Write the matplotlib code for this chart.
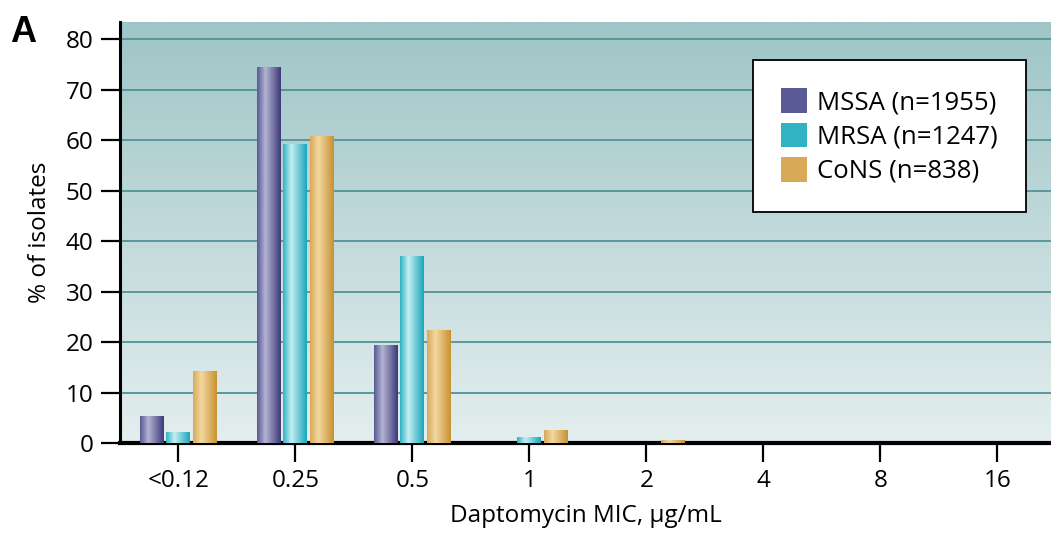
import numpy as np
import matplotlib.pyplot as plt
from matplotlib.colors import LinearSegmentedColormap
from matplotlib.patches import Patch

plt.rcParams['font.family'] = ['Open Sans', 'DejaVu Sans']

categories = ['<0.12', '0.25', '0.5', '1', '2', '4', '8', '16']
mssa = [5.3, 74.5, 19.5, 0, 0, 0, 0, 0]
mrsa = [2.1, 59.3, 37.0, 1.2, 0, 0, 0, 0]
cons = [14.3, 60.8, 22.3, 2.5, 0.5, 0, 0, 0]
labels = ['MSSA (n=1955)', 'MRSA (n=1247)', 'CoNS (n=838)']

# dark, light, dark-edge colours for the shaded bars
shades = [('#5a5a94', '#b4b4d4', '#3c3a78'),
          ('#30b4c4', '#c4eef2', '#1aa6ba'),
          ('#d8aa58', '#f2d8a0', '#c89232')]

fig = plt.figure(figsize=(10.51, 5.44), dpi=100)
ax = fig.add_axes([120/1051, 1 - 443/544, 1 - 120/1051, 421/544])

ax.set_xlim(-0.5, 7.46)
ax.set_ylim(0, 83.4)

# background gradient
bg = LinearSegmentedColormap.from_list('bg', ['#e4eeee', '#9fc5c7'])
ax.imshow(np.linspace(0, 1, 256).reshape(-1, 1), cmap=bg, aspect='auto',
          extent=[-0.5, 7.46, 0, 83.4], origin='lower', zorder=0)

for y in range(10, 90, 10):
    ax.axhline(y, color='#4f9496', lw=1.3, zorder=1)

x = np.arange(len(categories))
width = 0.205
step = 0.225
grad = np.linspace(0, 1, 64).reshape(1, -1)
for k, (vals, sh) in enumerate(zip([mssa, mrsa, cons], shades)):
    cmap = LinearSegmentedColormap.from_list('s%d' % k, [(0, sh[0]), (0.35, sh[1]), (1, sh[2])])
    bars = ax.bar(x + (k - 1) * step, vals, width, color=sh[0], zorder=2, lw=0)
    for b in bars:
        if b.get_height() <= 0:
            continue
        im = ax.imshow(grad, cmap=cmap, aspect='auto', zorder=3,
                       extent=[b.get_x(), b.get_x() + b.get_width(), 0, b.get_height()])
        im.set_clip_path(b)

ax.set_xlim(-0.5, 7.46)
ax.set_ylim(0, 83.4)

ax.set_xticks(x)
ax.set_xticklabels(categories)
ax.set_yticks(range(0, 90, 10))
ax.tick_params(axis='both', direction='out', length=14, width=1.6, labelsize=17.5, pad=5)
for s in ['top', 'right']:
    ax.spines[s].set_visible(False)
ax.spines['left'].set_linewidth(2.2)
ax.spines['bottom'].set_linewidth(3)

ax.set_ylabel('% of isolates', fontsize=17.5, labelpad=10)
ax.set_xlabel('Daptomycin MIC, µg/mL', fontsize=17.5, labelpad=8)

handles = [Patch(facecolor=sh[0], edgecolor='none') for sh in shades]
leg = ax.legend(handles, labels, loc='upper right', bbox_to_anchor=(0.987, 0.94),
                fontsize=18.5, frameon=True, fancybox=False, handlelength=1.0,
                handleheight=1.1, borderpad=1.1, labelspacing=0.28, handletextpad=0.4)
leg.get_frame().set_edgecolor('black')
leg.get_frame().set_linewidth(1.3)
leg.get_frame().set_facecolor('white')
leg.get_frame().set_alpha(1)
leg.set_zorder(5)

fig.text(10/1051, 1 - 42/544, 'A', fontsize=26, fontweight='heavy', family='Liberation Sans')

fig.savefig('out.png', dpi=100)
